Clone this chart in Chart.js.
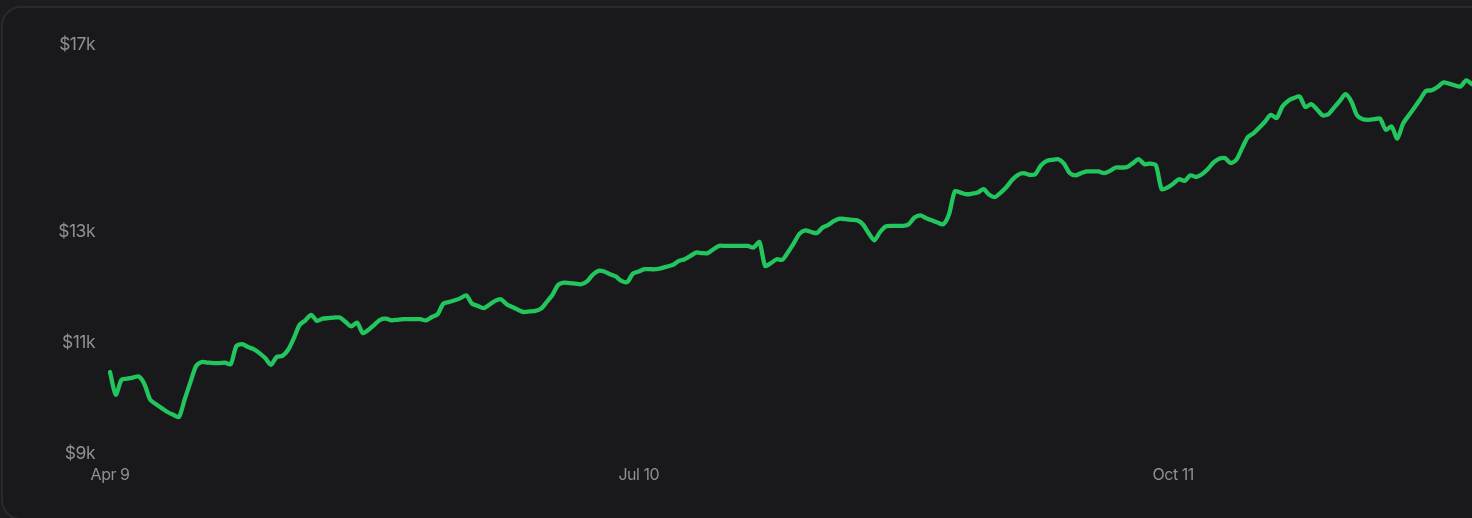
<!DOCTYPE html>
<html>
<head>
<meta charset="utf-8">
<script src="https://cdn.jsdelivr.net/npm/chart.js@4.4.1/dist/chart.umd.min.js"></script>
<style>
  html, body { margin: 0; padding: 0; background: #1c1c1e; overflow: hidden; width: 1472px; height: 518px; }
  #card { position: absolute; left: 1px; top: 6px; width: 1520px; height: 514px; box-sizing: border-box;
          border: 2px solid #2a2a2d; border-radius: 20px; background: #19191b; }
  #wrap { position: absolute; left: 0; top: 0; width: 1472px; height: 518px; }
</style>
</head>
<body>
<div id="card"></div>
<div id="wrap"><canvas id="c" width="1472" height="518"></canvas></div>
<script>
// ---- data ----
const startDate = [2025, 3, 9]; // Apr 9 (month is 0-based)
const monthNames = ['Jan','Feb','Mar','Apr','May','Jun','Jul','Aug','Sep','Oct','Nov','Dec'];
const xTickLabels = ['Apr 9', 'Jul 10', 'Oct 11'];
const yTickValues = [9300, 11300, 13300, 16662];
const portfolioValues = [
  10740, 10330, 10600, 10620, 10640, 10660, 10520, 10240, 10160, 10090,
  10020, 9970, 9930, 10250, 10560, 10850, 10920, 10910, 10900, 10900,
  10910, 10880, 11210, 11240, 11190, 11150, 11080, 10990, 10870, 11010,
  11030, 11140, 11350, 11590, 11670, 11770, 11660, 11700, 11710, 11720,
  11720, 11640, 11560, 11630, 11440, 11500, 11590, 11680, 11700, 11670,
  11680, 11690, 11690, 11690, 11690, 11670, 11730, 11780, 11970, 12000,
  12030, 12070, 12120, 11970, 11930, 11890, 11950, 12020, 12050, 11960,
  11910, 11860, 11820, 11830, 11840, 11880, 12000, 12130, 12310, 12350,
  12340, 12330, 12320, 12370, 12490, 12560, 12550, 12500, 12460, 12380,
  12360, 12510, 12550, 12590, 12590, 12590, 12610, 12640, 12670, 12740,
  12770, 12830, 12890, 12880, 12880, 12950, 13010, 13010, 13010, 13010,
  13010, 13010, 12980, 13080, 12650, 12700, 12770, 12760, 12900, 13060,
  13230, 13290, 13260, 13240, 13340, 13390, 13460, 13500, 13490, 13480,
  13470, 13400, 13240, 13110, 13260, 13360, 13370, 13370, 13370, 13400,
  13520, 13560, 13510, 13470, 13430, 13400, 13580, 13990, 13970, 13940,
  13950, 13970, 14030, 13930, 13890, 13970, 14070, 14200, 14290, 14320,
  14290, 14300, 14460, 14540, 14560, 14570, 14490, 14320, 14280, 14320,
  14350, 14350, 14350, 14320, 14360, 14420, 14420, 14430, 14500, 14570,
  14480, 14490, 14460, 14030, 14060, 14130, 14210, 14180, 14280, 14250,
  14300, 14390, 14510, 14580, 14590, 14500, 14560, 14770, 14970, 15040,
  15140, 15250, 15370, 15310, 15520, 15620, 15670, 15700, 15510, 15560,
  15470, 15360, 15380, 15500, 15620, 15740, 15610, 15360, 15290, 15280,
  15290, 15300, 15100, 15160, 14940, 15210, 15360, 15500, 15650, 15800,
  15810, 15870, 15950, 15930, 15900, 15880, 15990, 15920
];

// category labels (one per day from the start date)
const dateLabels = portfolioValues.map((_, i) => {
  const d = new Date(Date.UTC(startDate[0], startDate[1], startDate[2] + i));
  return monthNames[d.getUTCMonth()] + ' ' + d.getUTCDate();
});

const labelColor = '#8f8f94';
const xFont = { family: 'Inter, "Noto Sans", sans-serif', size: 16 };
const yFont = { family: 'Inter, "Noto Sans", sans-serif', size: 17.5 };

const spacingPlugin = {
  id: 'spacing',
  beforeDraw(chart) { chart.ctx.letterSpacing = '-0.5px'; }
};

new Chart(document.getElementById('c'), {
  type: 'line',
  data: {
    labels: dateLabels,
    datasets: [{
      data: portfolioValues,
      borderColor: '#22c55e',
      borderWidth: 4.3,
      pointRadius: 0,
      tension: 0.25,
      fill: false,
      borderCapStyle: 'round',
      borderJoinStyle: 'round'
    }]
  },
  options: {
    responsive: false,
    animation: false,
    layout: { padding: { top: 43, left: 0, right: 0, bottom: 0 } },
    plugins: { legend: { display: false }, tooltip: { enabled: false } },
    scales: {
      x: {
        type: 'category',
        offset: false,
        grid: { display: false, drawTicks: false },
        border: { display: false },
        afterFit(scale) { scale.height = 66; },
        ticks: {
          autoSkip: false,
          maxRotation: 0,
          minRotation: 0,
          padding: 14,
          color: labelColor,
          font: xFont,
          callback(val, idx) {
            const l = dateLabels[idx];
            return xTickLabels.includes(l) ? l : null;
          }
        }
      },
      y: {
        type: 'linear',
        min: yTickValues[0],
        max: yTickValues[yTickValues.length - 1],
        grid: { display: false, drawTicks: false },
        border: { display: false },
        afterFit(scale) { scale.width = 110; },
        afterBuildTicks(scale) { scale.ticks = yTickValues.map(v => ({ value: v })); },
        ticks: {
          padding: 15,
          labelOffset: 2,
          color: labelColor,
          font: yFont,
          callback(v) { return '$' + Math.round(v / 1000) + 'k'; }
        }
      }
    }
  },
  plugins: [spacingPlugin]
});
</script>
</body>
</html>
